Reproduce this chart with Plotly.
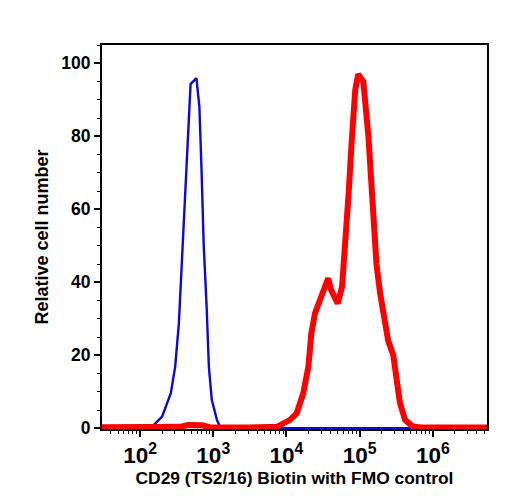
import plotly.graph_objects as go

# FMO control (blue)
fmo_x = [30, 100, 126, 151, 200, 263, 302, 339, 380, 427, 490, 589, 646, 692, 741,
         813, 871, 955, 1122, 1230, 1413, 5500000]
fmo_y = [0, 0, 0.1, 0.7, 3.2, 9.6, 16.9, 28.8, 48.8, 70.8, 94.3, 95.9, 88.1, 70.8, 50,
         33, 16.9, 7.8, 2.3, 0.5, 0, 0]

# CD29 (TS2/16) Biotin (red)
cd29_x = [30, 100, 355, 447, 562, 708, 891, 1259, 3162, 7413, 11220, 13800, 16980,
          19950, 21880, 24550, 28840, 33880, 37150, 40740, 50120, 57540, 61660, 70790,
          77620, 87100, 95500, 112200, 131800, 144500, 162200, 169800, 190500, 208900,
          245500, 288400, 323600, 354800, 416900, 537000, 707900, 5500000]
cd29_y = [0.3, 0.3, 0.4, 0.9, 1.0, 0.8, 0.3, 0.2, 0.2, 0.4, 2.3, 4.1, 9.6,
          16.9, 26, 31.5, 35.2, 39.7, 41.1, 37.9, 34.2, 38.8, 46.1, 64.4,
          78.1, 92.7, 97, 95, 80, 69, 55, 45, 37, 33,
          24, 20, 13, 7, 2.3, 0.4, 0.2, 0.2]

y_ticks = [0, 20, 40, 60, 80, 100]

fig = go.Figure()
fig.add_trace(go.Scatter(x=fmo_x, y=fmo_y, mode="lines",
                         line=dict(color="#0a0ad8", width=2.4), showlegend=False))
fig.add_trace(go.Scatter(x=cd29_x, y=cd29_y, mode="lines",
                         line=dict(color="#ff0000", width=6), showlegend=False))

font_fam = "Liberation Sans, Arial, sans-serif"
fig.update_layout(
    width=508, height=500,
    margin=dict(l=102, r=21, t=45, b=71),
    paper_bgcolor="white", plot_bgcolor="white",
    font=dict(family=font_fam, color="black", size=17.5, weight="bold"),
    xaxis=dict(
        type="log", range=[1.48, 6.74], dtick=1, exponentformat="power",
        showline=True, linecolor="black", linewidth=2, mirror=True,
        ticks="outside", ticklen=6, tickwidth=2, tickcolor="black",
        minor=dict(ticks="outside", ticklen=3, tickwidth=1, tickcolor="black", showgrid=False),
        showgrid=False, zeroline=False,
        tickfont=dict(size=18, weight="bold"),
        title=dict(text="CD29 (TS2/16) Biotin with FMO control",
                   font=dict(size=17.4, weight="bold"), standoff=0),
    ),
    yaxis=dict(
        range=[-0.2, 105], tickvals=y_ticks,
        showline=True, linecolor="black", linewidth=2, mirror=True,
        ticks="outside", ticklen=6, tickwidth=2, tickcolor="black",
        minor=dict(ticks="outside", ticklen=3, tickwidth=1, tickcolor="black", dtick=5, showgrid=False),
        showgrid=False, zeroline=False,
        tickfont=dict(size=17.5, weight="bold"),
        title=dict(text="Relative cell number", font=dict(size=18, weight="bold"), standoff=8),
    ),
)

fig.write_html("out.html")
